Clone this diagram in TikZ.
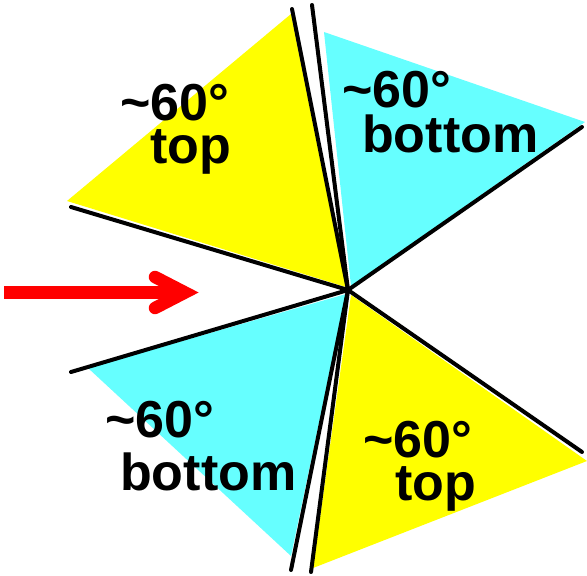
\documentclass[tikz,border=0pt]{standalone}
\usepackage{fontspec}
\setmainfont{Liberation Sans}
\definecolor{ylw}{RGB}{255,255,0}
\definecolor{cyn}{RGB}{102,255,255}
\definecolor{arrowred}{RGB}{255,0,0}
\newcommand{\twolines}[4]{\vtop{\baselineskip=#1\lineskiplimit=-100pt\hbox{#2}\hbox{\hspace*{#3}#4}}}
\tikzset{
  sep/.style={line width=4pt, black, line cap=round},
  lbl/.style={inner sep=0pt, anchor=base west,
    font=\fontsize{52}{52}\selectfont\bfseries},
  redarrow/.style={arrowred, line width=12.5pt}
}
\begin{document}
\begin{tikzpicture}[x=1pt,y=-1pt]
\useasboundingbox (0,0) rectangle (587,576);
\coordinate (C) at (348,290);
% coloured sectors
\fill[ylw] (291,14) -- (67,201) -- (346,287) -- cycle;
\fill[cyn] (324,32) -- (585,122) -- (351,286) -- cycle;
\fill[cyn] (88,368) -- (291,556) -- (346,294) -- cycle;
\fill[ylw] (351,295) -- (313,568) -- (587,461) -- cycle;
% end points of separators
\coordinate (tA) at (292,9);
\coordinate (tB) at (312,5);
\coordinate (uR) at (582,127);
\coordinate (lR) at (582,452);
\coordinate (bB) at (311,572);
\coordinate (bA) at (291,570);
\coordinate (lL) at (71,372);
\coordinate (uL) at (71,207);
\foreach \p in {tA,tB,uR,lR,bB,bA,lL,uL}{\draw[sep] (C) -- (\p);}
% labels
\node[lbl] (t1) at (120,120) {\twolines{43pt}{\textasciitilde60°}{30pt}{top}};
\node[lbl] (t2) at (342,107) {\twolines{45pt}{\textasciitilde60°}{20pt}{bottom}};
\node[lbl] (t3) at (105,437) {\twolines{53pt}{\textasciitilde60°}{15pt}{bottom}};
\node[lbl] (t4) at (363,457) {\twolines{43pt}{\textasciitilde60°}{32pt}{top}};
% red arrow
\coordinate (as) at (4,292.5);
\coordinate (ae) at (180,292.5);
\coordinate (h1) at (155,277);
\coordinate (ht) at (185,292.5);
\coordinate (h2) at (155,308);
\draw[redarrow] (as) -- (ae);
\draw[redarrow, line cap=round, line join=miter] (h1) -- (ht) -- (h2);
\end{tikzpicture}
\end{document}
